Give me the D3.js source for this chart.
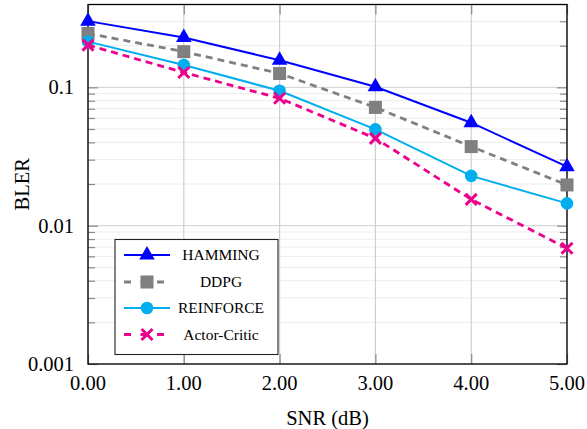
<!DOCTYPE html>
<html><head><meta charset="utf-8">
<script src="https://cdn.jsdelivr.net/npm/d3@7"></script>
<style>body{margin:0;background:#fff}svg{display:block}text{font-family:"Liberation Serif","DejaVu Serif",serif;fill:#000}</style>
</head><body>
<svg id="c" width="587" height="429"></svg>
<script>
const snr = [0, 1, 2, 3, 4, 5];
const xTicks = [0, 1, 2, 3, 4, 5];
const yTicks = [0.001, 0.01, 0.1];
const seriesNames = ["HAMMING", "DDPG", "REINFORCE", "Actor-Critic"];
const hamming = [0.301, 0.229, 0.157, 0.101, 0.0555, 0.0267];
const ddpg = [0.245, 0.181, 0.126, 0.0716, 0.0373, 0.0197];
const reinforce = [0.214, 0.145, 0.0945, 0.0497, 0.0229, 0.0145];
const actorCritic = [0.202, 0.128, 0.0833, 0.0428, 0.0155, 0.00686];
const yDomain = [0.001, 0.397];
const xLabel = "SNR (dB)", yLabel = "BLER";

const styles = [
  {color:"#0000ff", dash:null, width:2, marker:"triangle"},
  {color:"#808080", dash:"7,5", width:2.8, marker:"square"},
  {color:"#00aeef", dash:null, width:2, marker:"circle"},
  {color:"#ec008c", dash:"7,5", width:2.8, marker:"cross"}
];
const data = [hamming, ddpg, reinforce, actorCritic];

const svg = d3.select("#c");
const L = 88, R = 567, T = 4.5, B = 364;
const x = d3.scaleLinear().domain([0, 5]).range([L, R]);
const y = d3.scaleLog().domain(yDomain).range([B, T]);

// minor values
const minor = [];
for (let e = -3; e <= -1; e++) for (let m = 2; m <= 9; m++) { const v = m * Math.pow(10, e); if (v <= yDomain[1]) minor.push(v); }

const g = svg.append("g");
// minor grid
g.selectAll(".mg").data(minor).join("line").attr("x1", L).attr("x2", R)
  .attr("y1", d => y(d)).attr("y2", d => y(d)).attr("stroke", "#ececec").attr("stroke-width", 1);
// major grid
g.selectAll(".Mg").data(yTicks).join("line").attr("x1", L).attr("x2", R)
  .attr("y1", d => y(d)).attr("y2", d => y(d)).attr("stroke", "#cfcfcf").attr("stroke-width", 1);
g.selectAll(".Xg").data(xTicks).join("line").attr("y1", T).attr("y2", B)
  .attr("x1", d => x(d)).attr("x2", d => x(d)).attr("stroke", "#cfcfcf").attr("stroke-width", 1.2);

// ticks (inward, both sides) using axes
function styleAxis(sel){ sel.select(".domain").remove(); sel.selectAll(".tick line").attr("stroke", "#8a8a8a").attr("stroke-width", 1.2); sel.selectAll("text").remove(); }
svg.append("g").attr("transform", `translate(${L},0)`).call(d3.axisRight(y).tickValues(yTicks).tickSize(10)).call(styleAxis);
svg.append("g").attr("transform", `translate(${R},0)`).call(d3.axisLeft(y).tickValues(yTicks).tickSize(10)).call(styleAxis);
svg.append("g").attr("transform", `translate(${L},0)`).call(d3.axisRight(y).tickValues(minor).tickSize(7)).call(styleAxis);
svg.append("g").attr("transform", `translate(${R},0)`).call(d3.axisLeft(y).tickValues(minor).tickSize(7)).call(styleAxis);
svg.append("g").attr("transform", `translate(0,${B})`).call(d3.axisTop(x).tickValues(xTicks).tickSize(10)).call(styleAxis);
svg.append("g").attr("transform", `translate(0,${T})`).call(d3.axisBottom(x).tickValues(xTicks).tickSize(10)).call(styleAxis);

// frame
svg.append("rect").attr("x", L).attr("y", T).attr("width", R - L).attr("height", B - T)
  .attr("fill", "none").attr("stroke", "#000").attr("stroke-width", 1.3);

// tick labels
const fmtY = d => d === 0.1 ? "0.1" : d === 0.01 ? "0.01" : "0.001";
svg.selectAll(".yl").data(yTicks).join("text").attr("x", 74).attr("y", d => y(d)).attr("dy", "0.34em")
  .attr("text-anchor", "end").attr("font-size", 20.5).text(fmtY);
svg.selectAll(".xl").data(xTicks).join("text").attr("x", d => x(d)).attr("y", 390)
  .attr("text-anchor", "middle").attr("font-size", 20.5).text(d => d.toFixed(2));
svg.append("text").attr("x", (L + R) / 2).attr("y", 425).attr("text-anchor", "middle").attr("font-size", 20.5).text(xLabel);
svg.append("text").attr("transform", `translate(29,${(T + B) / 2}) rotate(-90)`).attr("text-anchor", "middle").attr("font-size", 20.5).text(yLabel);

// markers
function drawMarker(sel, type, color) {
  if (type === "triangle") sel.append("path").attr("d", d3.symbol(d3.symbolTriangle, 105)()).attr("fill", color);
  else if (type === "square") sel.append("path").attr("d", d3.symbol(d3.symbolSquare, 170)()).attr("fill", color);
  else if (type === "circle") sel.append("circle").attr("r", 6.3).attr("fill", color);
  else sel.append("path").attr("d", "M-5.5,-5.5L5.5,5.5M-5.5,5.5L5.5,-5.5").attr("stroke", color).attr("stroke-width", 3).attr("fill", "none");
}

const line = d3.line().x((d, i) => x(snr[i])).y(d => y(d));
data.forEach((vals, k) => {
  const s = styles[k];
  const p = svg.append("path").attr("d", line(vals)).attr("fill", "none").attr("stroke", s.color).attr("stroke-width", s.width);
  if (s.dash) p.attr("stroke-dasharray", s.dash);
  vals.forEach((v, i) => {
    const m = svg.append("g").attr("transform", `translate(${x(snr[i])},${y(v)})`);
    drawMarker(m, s.marker, s.color);
  });
});

// legend
const lg = svg.append("g");
lg.append("rect").attr("x", 115).attr("y", 239.5).attr("width", 163).attr("height", 115)
  .attr("fill", "#fff").attr("stroke", "#222").attr("stroke-width", 1.1);
const rowY = [255, 282, 308, 334.5];
seriesNames.forEach((name, k) => {
  const s = styles[k];
  const ry = rowY[k];
  const l = lg.append("line").attr("x1", 124).attr("x2", 170).attr("y1", ry).attr("y2", ry)
    .attr("stroke", s.color).attr("stroke-width", s.width);
  if (s.dash) l.attr("stroke-dasharray", "7,9.5");
  const m = lg.append("g").attr("transform", `translate(147,${ry})`);
  drawMarker(m, s.marker, s.color);
  lg.append("text").attr("x", 221).attr("y", ry).attr("dy", "0.33em").attr("text-anchor", "middle")
    .attr("font-size", 15.5).text(name);
});
</script>
</body></html>
